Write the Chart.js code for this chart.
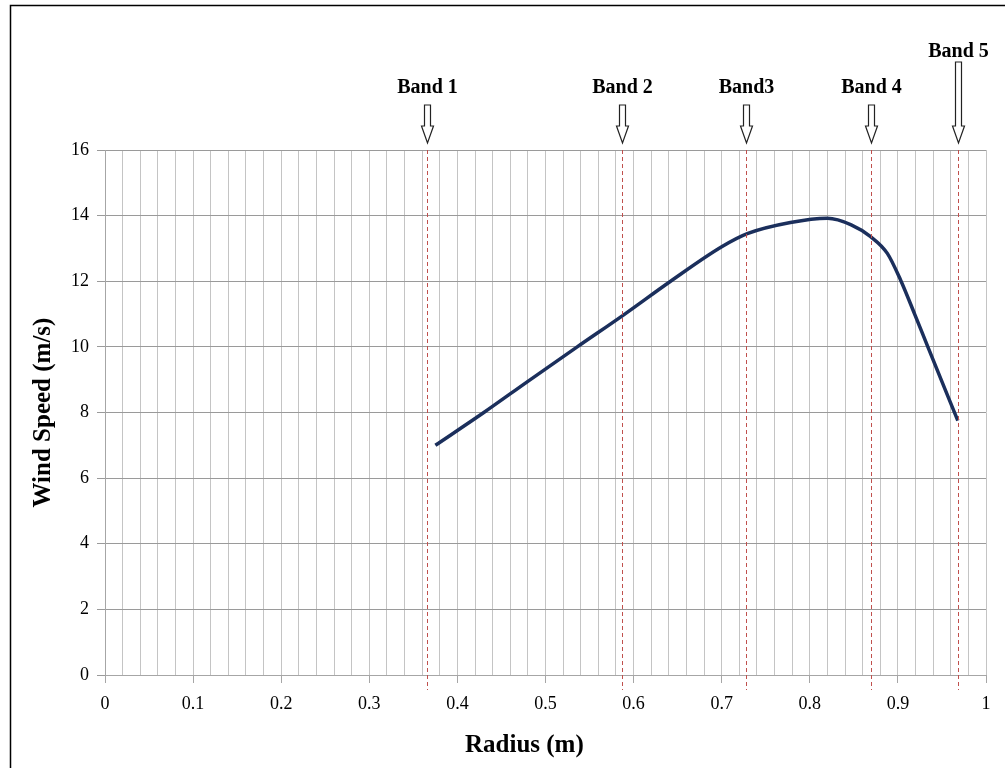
<!DOCTYPE html>
<html>
<head>
<meta charset="utf-8">
<script src="https://cdn.jsdelivr.net/npm/chart.js@4/dist/chart.umd.min.js"></script>
<style>
  html, body { margin: 0; padding: 0; background: #fff; }
  #wrap { width: 1005px; height: 768px; }
</style>
</head>
<body>
<div id="wrap"><canvas id="windChart" width="1005" height="768"></canvas></div>
<script>
// values
const radius = [0.375, 0.43, 0.48, 0.536, 0.59, 0.642, 0.70, 0.729, 0.778, 0.82, 0.847, 0.869, 0.888, 0.903, 0.919, 0.934, 0.968];
const windSpeed = [7.0, 8.0, 8.95, 10.0, 11.0, 12.0, 13.05, 13.45, 13.79, 13.92, 13.72, 13.36, 12.85, 12.04, 11.0, 10.0, 7.75];
const bandNames = ["Band 1", "Band 2", "Band3", "Band 4", "Band 5"];
const bandRadius = [0.365, 0.587, 0.728, 0.869, 0.968];

const serif = "'Liberation Serif', 'Times New Roman', serif";
const gridGrey = "#a6a6a6";

// dashed band markers, hollow arrows and band labels, x title and the outer frame
const bandPlugin = {
  id: "bands",
  afterDatasetsDraw(chart) {
    const ctx = chart.ctx;
    const x = chart.scales.x;
    const area = chart.chartArea;
    ctx.save();

    // frame
    ctx.strokeStyle = "#000";
    ctx.lineWidth = 1.5;
    ctx.beginPath();
    ctx.moveTo(10.5, 780);
    ctx.lineTo(10.5, 5.5);
    ctx.lineTo(1010, 5.5);
    ctx.stroke();

    // x axis title (sits a little left of the plot centre in the original)
    ctx.fillStyle = "#000";
    ctx.font = "bold 25px " + serif;
    ctx.textAlign = "center";
    ctx.textBaseline = "middle";
    ctx.fillText("Radius (m)", x.getPixelForValue(0.476), 746);

    bandRadius.forEach((r, i) => {
      const px = Math.round(x.getPixelForValue(r)) + 0.5;

      // dashed line
      ctx.strokeStyle = "#c0504d";
      ctx.lineWidth = 1;
      ctx.setLineDash([4, 3]);
      ctx.beginPath();
      ctx.moveTo(px, area.top);
      ctx.lineTo(px, area.bottom + 15);
      ctx.stroke();
      ctx.setLineDash([]);

      // hollow arrow
      const last = i === bandRadius.length - 1;
      const tip = area.top - 7;
      const headTop = tip - 17;
      const shaftTop = last ? 62 : 105;
      ctx.strokeStyle = "#222";
      ctx.fillStyle = "#fff";
      ctx.lineWidth = 1.2;
      ctx.beginPath();
      ctx.moveTo(px - 3, shaftTop);
      ctx.lineTo(px + 3, shaftTop);
      ctx.lineTo(px + 3, headTop);
      ctx.lineTo(px + 6, headTop);
      ctx.lineTo(px, tip);
      ctx.lineTo(px - 6, headTop);
      ctx.lineTo(px - 3, headTop);
      ctx.closePath();
      ctx.fill();
      ctx.stroke();

      // label
      ctx.fillStyle = "#000";
      ctx.font = "bold 20px " + serif;
      ctx.textAlign = "center";
      ctx.textBaseline = "alphabetic";
      ctx.fillText(bandNames[i], px, last ? 57 : 93);
    });
    ctx.restore();
  }
};

new Chart(document.getElementById("windChart"), {
  type: "line",
  data: {
    datasets: [{
      label: "Wind Speed",
      data: radius.map((r, i) => ({ x: r, y: windSpeed[i] })),
      borderColor: "#1b2f5c",
      borderWidth: 3.5,
      pointRadius: 0,
      fill: false,
      cubicInterpolationMode: "monotone"
    }]
  },
  options: {
    responsive: false,
    animation: false,
    layout: { padding: { top: 150, right: 19, left: 0, bottom: 0 } },
    plugins: {
      legend: { display: false },
      tooltip: { enabled: false }
    },
    scales: {
      x: {
        type: "linear",
        min: 0,
        max: 1,
        afterFit(scale) { scale.height = 93; },
        ticks: {
          stepSize: 0.02,
          autoSkip: false,
          maxRotation: 0,
          padding: 10,
          color: "#000",
          font: { family: serif, size: 18 },
          callback(value, index) {
            if (index % 5 !== 0) return "";
            return Math.round(value * 10) / 10 + "";
          }
        },
        grid: {
          color: "#c4c4c4",
          tickLength: 8,
          tickColor: (c) => (c.index % 5 === 0 ? gridGrey : "rgba(0,0,0,0)")
        },
        border: { color: gridGrey },
        title: { display: false }
      },
      y: {
        min: 0,
        max: 16,
        afterFit(scale) { scale.width = 105; },
        ticks: {
          stepSize: 2,
          padding: 8,
          color: "#000",
          font: { family: serif, size: 18 }
        },
        grid: { color: "#9a9a9a", tickLength: 8 },
        border: { color: gridGrey },
        title: {
          display: true,
          text: "Wind Speed (m/s)",
          color: "#000",
          font: { family: serif, size: 25, weight: "bold" },
          padding: { top: 29, bottom: 0 }
        }
      }
    }
  },
  plugins: [bandPlugin]
});
</script>
</body>
</html>
